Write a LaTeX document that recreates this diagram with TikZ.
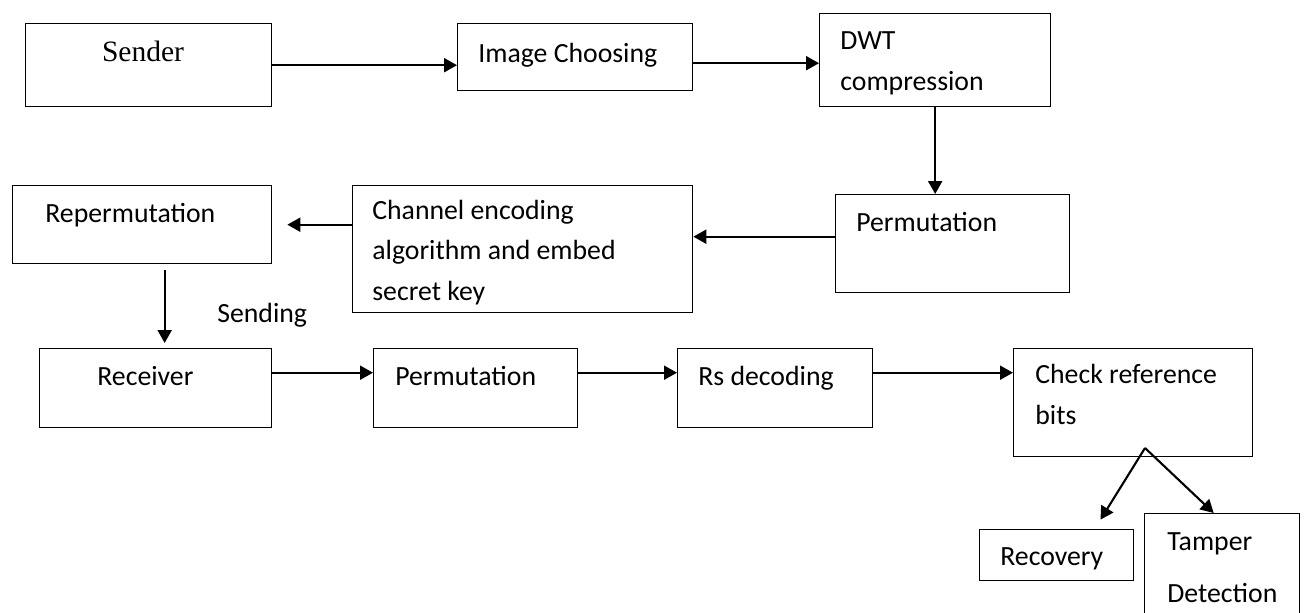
\documentclass[tikz,border=0pt]{standalone}
\usepackage{fontspec}
\setmainfont{Carlito}
\newfontfamily\senderfont{Liberation Serif}
\usetikzlibrary{arrows.meta}

\begin{document}
\begin{tikzpicture}[x=0.02cm, y=-0.02cm,
    box/.style={draw, line width=0.8pt, anchor=north west, inner sep=0pt},
    lbl/.style={anchor=base west, inner sep=0pt, align=left, font=\fontsize{15.8}{22.8}\selectfont},
    arr/.style={-{Triangle[length=2.6mm, width=2.8mm]}, line width=1.2pt}]
    \useasboundingbox (0,0) rectangle (1305,612);

    % Sender side
    \node[box, minimum width=4.92cm, minimum height=1.66cm] (sender) at (25,23) {};
    \node[box, minimum width=4.70cm, minimum height=1.34cm] (choose) at (457,23) {};
    \node[box, minimum width=4.62cm, minimum height=1.86cm] (dwt) at (819,13) {};
    \node[box, minimum width=4.68cm, minimum height=1.96cm] (perm1) at (835,194) {};
    \node[box, minimum width=6.80cm, minimum height=2.54cm] (chan) at (352,185) {};
    \node[box, minimum width=5.18cm, minimum height=1.56cm] (reperm) at (12,185) {};

    % Receiver side
    \node[box, minimum width=4.64cm, minimum height=1.58cm] (recv) at (39,348) {};
    \node[box, minimum width=4.08cm, minimum height=1.58cm] (perm2) at (373,348) {};
    \node[box, minimum width=3.90cm, minimum height=1.58cm] (rsdec) at (677,348) {};
    \node[box, minimum width=4.78cm, minimum height=2.16cm] (check) at (1013,348) {};
    \node[box, minimum width=3.08cm, minimum height=1.02cm] (recov) at (979,529) {};
    \node[box, minimum width=3.10cm, minimum height=2.80cm] (tamper) at (1144,513) {};

    % Labels (multi-line ones sit on their last baseline)
    \node[anchor=base, inner sep=0pt, font=\senderfont\fontsize{16.8}{20}\selectfont] (sender-t) at (143,61) {Sender};
    \node[lbl] (choose-t) at (478,62) {Image Choosing};
    \node[lbl] (dwt-t) at (840,90) {DWT\\compression};
    \node[lbl] (perm1-t) at (856,231) {Permutation};
    \node[lbl] (chan-t) at (372,300) {Channel encoding\\algorithm and embed\\secret key};
    \node[lbl] (reperm-t) at (45,222) {Repermutation};
    \node[lbl] (send-t) at (217,322) {Sending};
    \node[lbl] (recv-t) at (97,385) {Receiver};
    \node[lbl] (perm2-t) at (395,385) {Permutation};
    \node[lbl] (rsdec-t) at (698,385) {Rs decoding};
    \node[lbl] (check-t) at (1035,424) {Check reference\\bits};
    \node[lbl] (recov-t) at (1000,565) {Recovery};
    \node[lbl] (tamper-t) at (1167,602) {Tamper\\[6.8pt]Detection};

    % Arrows
    \draw[arr] (sender.east) -- (sender.east -| choose.west);
    \draw[arr] ([yshift=-0.12cm]choose.east) -- ([yshift=-0.12cm]choose.east -| dwt.west);
    \draw[arr] (dwt.south) -- (dwt.south |- perm1.north);
    \draw[arr] ([yshift=0.14cm]perm1.west) -- ([yshift=0.14cm]perm1.west -| chan.east);
    \draw[arr, shorten >=0.3cm] (chan.west |- reperm.east) -- (reperm.east);
    \draw[arr, shorten <=0.12cm, shorten >=0.1cm] ([xshift=0.45cm]reperm.south) -- ([xshift=0.45cm]reperm.south |- recv.north);
    \draw[arr] ([yshift=0.31cm]recv.east) -- ([yshift=0.31cm]recv.east -| perm2.west);
    \draw[arr] ([yshift=0.31cm]perm2.east) -- ([yshift=0.31cm]perm2.east -| rsdec.west);
    \draw[arr] ([yshift=0.31cm]rsdec.east) -- ([yshift=0.31cm]rsdec.east -| check.west);

    \coordinate (split) at (1145,448);
    \draw[arr, shorten >=0.22cm] (split) -- ([xshift=0.76cm]recov.north);
    \draw[arr] (split) -- ([xshift=-0.17cm]tamper.north);
\end{tikzpicture}
\end{document}
